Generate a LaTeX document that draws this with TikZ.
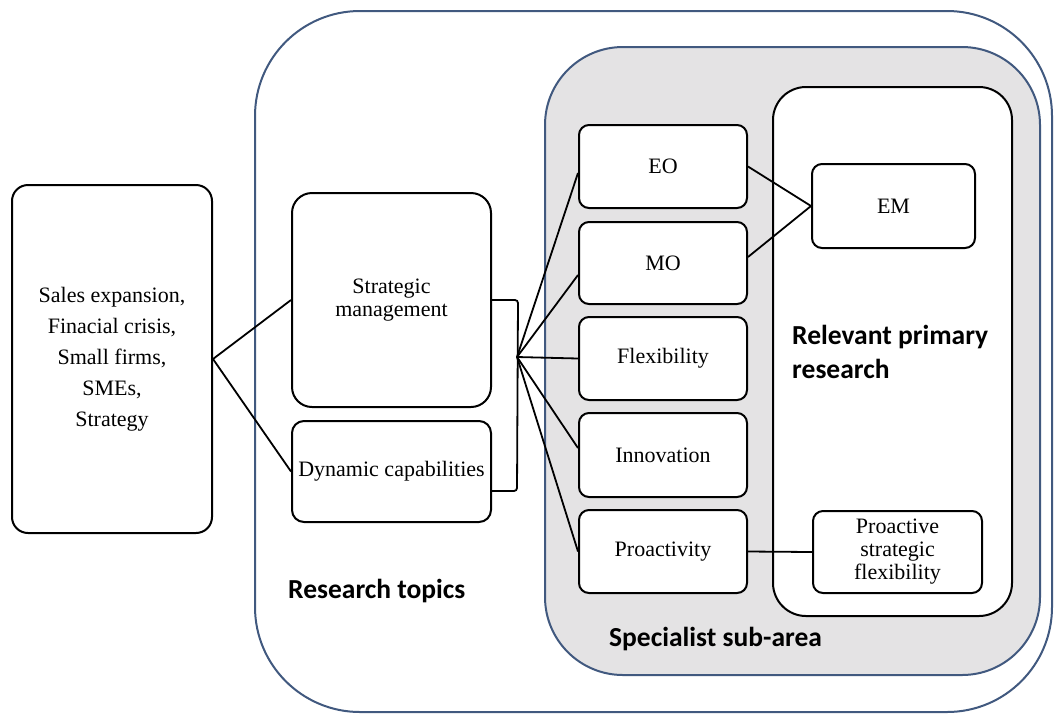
\documentclass[tikz,border=0pt]{standalone}
\usepackage{fontspec}
\setmainfont{Liberation Serif}
\newfontfamily\calfont{Carlito}
\definecolor{bluebd}{HTML}{41597F}
\definecolor{grayfill}{HTML}{E4E3E4}
\begin{document}
\begin{tikzpicture}[x=1pt,y=-1pt,
  box/.style={draw=black, line width=2pt, rounded corners=10pt, fill=white, inner sep=0pt, align=center, font=\fontsize{22}{23}\selectfont},
  lbl/.style={font=\calfont\bfseries\fontsize{27.5}{34}\selectfont, inner sep=0pt, align=left},
  conn/.style={line width=1.8pt},
  container/.style={line width=2pt}]
\useasboundingbox (0,0) rectangle (1059,716);
% containers
\draw[container, draw=bluebd, fill=white, rounded corners=105pt] (255,11) rectangle (1052,712);
\draw[container, draw=bluebd, fill=grayfill, rounded corners=78pt] (545,47) rectangle (1040,675);
\draw[container, draw=black, fill=white, rounded corners=33pt] (773,87) rectangle (1012,616);
% nodes
\node[box, rounded corners=16pt, minimum width=200, minimum height=348, font=\fontsize{22}{31}\selectfont] (src) at (112,359) {Sales expansion,\\Finacial crisis,\\Small firms,\\SMEs,\\Strategy};
\node[box, rounded corners=20pt, minimum width=199, minimum height=214] (sm) at (391.5,300) {Strategic\\management};
\node[box, rounded corners=12pt, minimum width=199, minimum height=101] (dc) at (391.5,471.5) {Dynamic capabilities};
\node[box, minimum width=168, minimum height=83] (eo) at (663,166.5) {EO};
\node[box, minimum width=168, minimum height=82] (mo) at (663,263) {MO};
\node[box, minimum width=168, minimum height=83] (fx) at (663,358.5) {Flexibility};
\node[box, minimum width=168, minimum height=84] (inn) at (663,455) {Innovation};
\node[box, minimum width=168, minimum height=83] (pr) at (663,551.5) {Proactivity};
\node[box, minimum width=163, minimum height=84] (em) at (893.5,206) {EM};
\node[box, minimum width=169, minimum height=82] (psf) at (897.5,552) {Proactive\\strategic\\flexibility};
% labels
\node[lbl, anchor=north west] (rpr) at (792,325) {Relevant primary\\research};
\node[lbl, anchor=base west] (rt) at (288,598) {Research topics};
\node[lbl, anchor=base west] (ssa) at (609,646) {Specialist sub-area};
% connectors
\coordinate (fan) at (517,357);
\draw[conn, rounded corners=3pt] (sm.east) -- ++(26,0) -- (517,491) -- (dc.east |- 0,491);
\draw[conn] (src.east) -- (sm.west);
\draw[conn] (src.east) -- (dc.west);
\draw[conn] (fan) -- ([yshift=-6.5pt]eo.west);
\draw[conn] (fan) -- ([yshift=-12pt]mo.west);
\draw[conn] (fan) -- (fx.west);
\draw[conn] (fan) -- ([yshift=7pt]inn.west);
\draw[conn] (fan) -- (pr.west);
\draw[conn] (eo.east) -- (em.west);
\draw[conn] ([yshift=6pt]mo.east) -- (em.west);
\draw[conn] (pr.east) -- (psf.west);
\end{tikzpicture}
\end{document}
